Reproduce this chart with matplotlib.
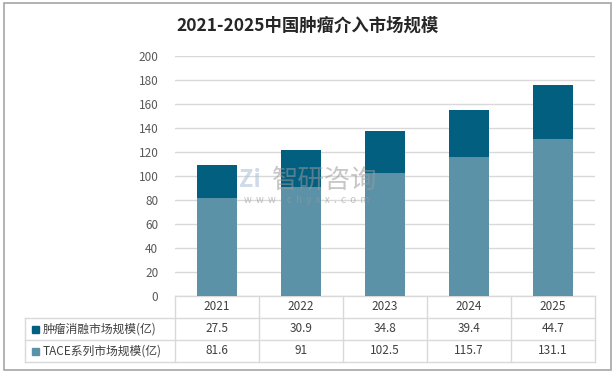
import matplotlib.pyplot as plt
from matplotlib.patches import Rectangle

plt.rcParams['font.family'] = ['Noto Sans CJK SC', 'DejaVu Sans']

years = ['2021', '2022', '2023', '2024', '2025']
ablation = [27.5, 30.9, 34.8, 39.4, 44.7]
tace = [81.6, 91, 102.5, 115.7, 131.1]
ablation_label = '肿瘤消融市场规模(亿)'
tace_label = 'TACE系列市场规模(亿)'
title = '2021-2025中国肿瘤介入市场规模'

c_top = '#025F80'
c_bot = '#5B92A8'
grid_c = '#D9D9D9'
txt_c = '#404040'

W, H = 615, 373
fig = plt.figure(figsize=(W / 100, H / 100), dpi=100)

# outer frame
fig.patches.append(Rectangle((4 / W, 3 / H), 607 / W, 367 / H, transform=fig.transFigure,
                             fill=False, edgecolor='#A6A6A6', linewidth=1.2))

ax = fig.add_axes([175 / W, 1 - 296 / H, 420 / W, 240 / H])
x = list(range(len(years)))
ax.bar(x, tace, width=0.48, color=c_bot, zorder=3)
ax.bar(x, ablation, width=0.48, bottom=tace, color=c_top, zorder=3)
ax.set_xlim(-0.5, len(years) - 0.5)
ax.set_ylim(0, 200)
ax.set_yticks(range(0, 201, 20))
ax.yaxis.grid(True, color=grid_c, linewidth=1)
ax.set_axisbelow(True)
for s in ax.spines.values():
    s.set_visible(False)
ax.tick_params(axis='y', length=0, pad=12, labelsize=8.5, labelcolor='#595959')
ax.set_xticks([])

fig.text(0.5, 1 - 26 / H, title, ha='center', va='center', fontsize=12.5,
         fontweight='bold', color='#262626')

# data table below the axis
row_h = 22 / 240  # in axes fraction
left_col = -150 / 420
tr = ax.transAxes
lk = dict(color=grid_c, linewidth=1, transform=tr, clip_on=False)
n = len(years)
# horizontal lines
ax.plot([0, 1], [0, 0], **lk)
for r in (1, 2, 3):
    ax.plot([left_col, 1], [-r * row_h, -r * row_h], **lk)
# vertical lines
for i in range(n + 1):
    ax.plot([i / n, i / n], [0, -3 * row_h], **lk)
ax.plot([left_col, left_col], [-row_h, -3 * row_h], **lk)

for i, yr in enumerate(years):
    cx = (i + 0.5) / n
    ax.text(cx, -0.5 * row_h, yr, transform=tr, ha='center', va='center',
            fontsize=8.5, color=txt_c)
    ax.text(cx, -1.5 * row_h, f'{ablation[i]:g}', transform=tr, ha='center',
            va='center', fontsize=8.5, color=txt_c)
    ax.text(cx, -2.5 * row_h, f'{tace[i]:g}', transform=tr, ha='center',
            va='center', fontsize=8.5, color=txt_c)

sq = 7 / 420
for r, (lab, col) in enumerate([(ablation_label, c_top), (tace_label, c_bot)]):
    yc = -(1.5 + r) * row_h
    ax.add_patch(Rectangle((left_col + 7 / 420, yc - 3.5 / 240), sq, 7 / 240,
                           transform=tr, color=col, clip_on=False))
    ax.text(left_col + 18 / 420, yc, lab, transform=tr, ha='left', va='center',
            fontsize=8.5, color=txt_c)

# watermark
fig.text(325 / W, 1 - 180 / H, '智研咨询', ha='center', va='center', fontsize=19,
         color='#9A9A9A', alpha=0.55, zorder=5)
fig.text(307 / W, 1 - 200 / H, 'w  w  w  .  c  h  y  x  x  .  c  o  m', ha='center',
         va='center', fontsize=7, color='#9A9A9A', alpha=0.6, zorder=5)
fig.text(250 / W, 1 - 180 / H, 'Zi', ha='center', va='center', fontsize=17,
         fontweight='bold', color='#AFC3DA', alpha=0.6, zorder=5)

fig.savefig('out.png', dpi=100)
